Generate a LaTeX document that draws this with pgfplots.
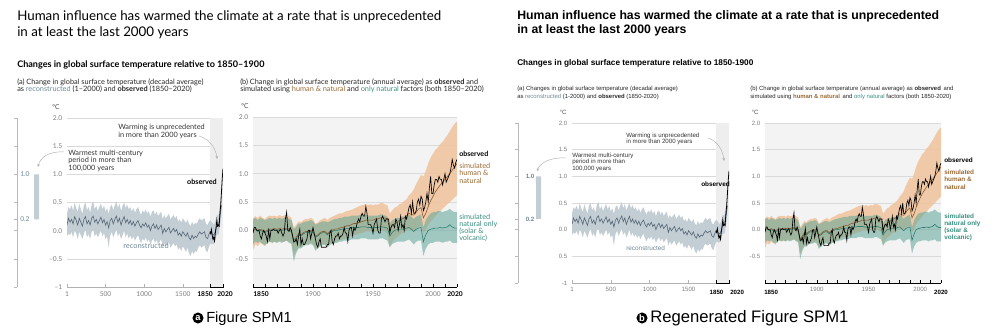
\documentclass[border=0pt]{standalone}
\usepackage{fontspec}
\usepackage{pgfplots}
\pgfplotsset{compat=1.18}
\usepackage{pgfplotstable}
\usetikzlibrary{arrows.meta}
\setmainfont{Liberation Sans}
\newfontfamily\lato{Lato}
\newfontfamily\arial{Liberation Sans}

\definecolor{recband}{HTML}{C3CDD4}
\definecolor{recline}{HTML}{566776}
\definecolor{reclab}{HTML}{6E8796}
\definecolor{hnband}{HTML}{F0C39C}
\definecolor{hnline}{HTML}{8A5A2E}
\definecolor{hnlab}{HTML}{9A6A35}
\definecolor{natband}{HTML}{5FA597}
\definecolor{natline}{HTML}{2E7D70}
\definecolor{natlab}{HTML}{3A8F80}
\definecolor{gridc}{HTML}{DADADA}
\definecolor{ticklab}{HTML}{7F7F7F}
\definecolor{bgb}{HTML}{F2F3F2}
\definecolor{shade}{HTML}{EEEEEE}

% reconstructed, decadal (1-2000)
\pgfplotstableread{
yr mid lo hi
1 0.10 -0.10 0.30
20 0.22 -0.05 0.42
40 0.15 -0.08 0.38
60 0.20 -0.02 0.45
80 0.12 -0.12 0.35
100 0.25 0.00 0.50
120 0.18 -0.05 0.40
140 0.10 -0.15 0.33
160 0.22 -0.02 0.48
180 0.15 -0.08 0.38
200 0.08 -0.15 0.30
220 0.20 -0.05 0.45
240 0.25 0.02 0.50
260 0.12 -0.12 0.36
280 0.18 -0.06 0.42
300 0.10 -0.15 0.32
320 0.22 -0.02 0.46
340 0.26 0.02 0.52
360 0.15 -0.10 0.38
380 0.20 -0.05 0.44
400 0.12 -0.12 0.35
420 0.18 -0.06 0.42
440 0.24 0.00 0.48
460 0.14 -0.10 0.38
480 0.20 -0.04 0.45
500 0.10 -0.15 0.34
520 0.16 -0.10 0.40
540 0.05 -0.30 0.30
560 0.18 -0.08 0.42
580 0.22 -0.02 0.46
600 0.12 -0.12 0.36
620 0.20 -0.05 0.45
640 0.26 0.02 0.52
660 0.15 -0.10 0.40
680 0.22 -0.04 0.48
700 0.10 -0.15 0.35
720 0.18 -0.08 0.44
740 0.25 0.00 0.50
760 0.14 -0.12 0.40
780 0.20 -0.05 0.46
800 0.12 -0.14 0.38
820 0.18 -0.08 0.42
840 0.10 -0.16 0.34
860 0.16 -0.10 0.40
880 0.08 -0.18 0.32
900 0.14 -0.12 0.38
920 0.18 -0.08 0.42
940 0.10 -0.16 0.34
960 0.05 -0.22 0.28
980 0.12 -0.14 0.36
1000 0.08 -0.18 0.32
1020 0.14 -0.12 0.38
1040 0.06 -0.20 0.30
1060 0.10 -0.15 0.35
1080 0.00 -0.25 0.25
1100 0.08 -0.18 0.33
1120 0.12 -0.14 0.36
1140 0.04 -0.22 0.28
1160 0.10 -0.16 0.34
1180 0.02 -0.24 0.26
1200 0.06 -0.20 0.30
1220 0.10 -0.15 0.34
1240 -0.05 -0.30 0.20
1260 0.04 -0.22 0.28
1280 -0.02 -0.28 0.22
1300 0.02 -0.24 0.26
1320 0.06 -0.20 0.30
1340 -0.04 -0.30 0.20
1360 0.00 -0.26 0.24
1380 0.04 -0.22 0.28
1400 -0.02 -0.28 0.22
1420 0.02 -0.24 0.26
1440 -0.08 -0.34 0.16
1460 -0.04 -0.30 0.20
1480 -0.10 -0.36 0.14
1500 -0.02 -0.28 0.22
1520 -0.06 -0.32 0.18
1540 -0.10 -0.38 0.14
1560 -0.04 -0.30 0.20
1580 -0.12 -0.40 0.12
1600 -0.16 -0.45 0.08
1620 -0.08 -0.36 0.16
1640 -0.14 -0.42 0.10
1660 -0.10 -0.36 0.14
1680 -0.12 -0.38 0.12
1700 -0.06 -0.30 0.18
1720 -0.02 -0.26 0.22
1740 -0.06 -0.30 0.18
1760 -0.04 -0.28 0.20
1780 -0.02 -0.26 0.22
1800 -0.12 -0.36 0.12
1820 -0.14 -0.38 0.10
1840 -0.06 -0.28 0.16
1860 -0.02 -0.22 0.18
1880 -0.06 -0.24 0.14
1900 -0.08 -0.24 0.10
1920 -0.02 -0.18 0.16
1940 0.10 -0.06 0.28
1960 0.08 -0.08 0.26
1980 0.25 0.08 0.42
2000 0.45 0.28 0.62
}\recon

% observed, decadal
\pgfplotstableread{
yr obs
1850 -0.02
1860 -0.05
1870 0.02
1880 -0.08
1890 -0.15
1900 -0.12
1910 -0.18
1920 -0.05
1930 0.05
1940 0.18
1950 0.08
1960 0.10
1970 0.08
1980 0.30
1990 0.45
2000 0.68
2010 0.92
2020 1.10
}\obsdec

% observed, annual
\pgfplotstableread{
yr obs
1850 -0.05
1851 0.05
1852 0.05
1853 0.0
1854 0.0
1855 0.0
1856 -0.1
1857 -0.15
1858 -0.05
1859 0.0
1860 -0.05
1861 -0.1
1862 -0.2
1863 0.0
1864 -0.15
1865 0.0
1866 0.0
1867 0.02
1868 0.0
1869 0.0
1870 0.0
1871 -0.05
1872 0.0
1873 0.02
1874 -0.05
1875 -0.1
1876 -0.05
1877 0.2
1878 0.32
1879 0.0
1880 -0.02
1881 0.05
1882 0.0
1883 -0.1
1884 -0.2
1885 -0.2
1886 -0.15
1887 -0.25
1888 -0.1
1889 0.02
1890 -0.25
1891 -0.15
1892 -0.25
1893 -0.25
1894 -0.2
1895 -0.15
1896 0.0
1897 0.0
1898 -0.15
1899 -0.05
1900 0.05
1901 -0.05
1902 -0.15
1903 -0.25
1904 -0.3
1905 -0.2
1906 -0.15
1907 -0.3
1908 -0.3
1909 -0.3
1910 -0.3
1911 -0.3
1912 -0.25
1913 -0.25
1914 -0.05
1915 0.0
1916 -0.2
1917 -0.25
1918 -0.15
1919 -0.1
1920 -0.1
1921 -0.05
1922 -0.15
1923 -0.1
1924 -0.1
1925 -0.05
1926 0.05
1927 -0.05
1928 -0.05
1929 -0.2
1930 0.0
1931 0.05
1932 0.05
1933 -0.1
1934 0.05
1935 0.0
1936 0.05
1937 0.15
1938 0.2
1939 0.15
1940 0.25
1941 0.3
1942 0.25
1943 0.25
1944 0.42
1945 0.3
1946 0.1
1947 0.1
1948 0.1
1949 0.05
1950 -0.05
1951 0.1
1952 0.15
1953 0.2
1954 0.0
1955 -0.05
1956 -0.05
1957 0.2
1958 0.25
1959 0.2
1960 0.15
1961 0.2
1962 0.2
1963 0.2
1964 -0.05
1965 0.05
1966 0.1
1967 0.1
1968 0.05
1969 0.2
1970 0.15
1971 0.0
1972 0.1
1973 0.25
1974 0.05
1975 0.1
1976 0.0
1977 0.25
1978 0.2
1979 0.3
1980 0.4
1981 0.45
1982 0.3
1983 0.5
1984 0.3
1985 0.3
1986 0.35
1987 0.5
1988 0.55
1989 0.45
1990 0.6
1991 0.55
1992 0.35
1993 0.4
1994 0.5
1995 0.65
1996 0.5
1997 0.75
1998 0.95
1999 0.65
2000 0.65
2001 0.8
2002 0.9
2003 0.9
2004 0.85
2005 0.95
2006 0.9
2007 0.9
2008 0.8
2009 0.9
2010 1.0
2011 0.85
2012 0.9
2013 0.95
2014 1.0
2015 1.1
2016 1.25
2017 1.15
2018 1.1
2019 1.2
2020 1.25
}\obsann

% simulated: human & natural (hn) and natural only (nat)
\pgfplotstableread{
yr hn hnlo hnhi nat natlo nathi
1850 0.00 -0.35 0.20 0.00 -0.25 0.20
1852 0.02 -0.25 0.25 0.02 -0.20 0.22
1854 0.00 -0.28 0.22 -0.02 -0.22 0.18
1856 0.02 -0.22 0.26 0.00 -0.20 0.22
1858 0.00 -0.25 0.22 -0.02 -0.24 0.20
1860 -0.02 -0.28 0.20 -0.04 -0.26 0.18
1862 0.00 -0.22 0.24 -0.02 -0.22 0.20
1864 0.02 -0.20 0.26 0.00 -0.20 0.22
1866 0.02 -0.22 0.25 0.00 -0.22 0.20
1868 0.03 -0.20 0.26 0.01 -0.20 0.22
1870 0.02 -0.22 0.24 0.00 -0.22 0.20
1872 0.03 -0.18 0.27 0.01 -0.20 0.22
1874 0.02 -0.20 0.25 0.00 -0.22 0.20
1876 0.03 -0.20 0.26 0.01 -0.20 0.22
1878 0.04 -0.18 0.28 0.02 -0.18 0.24
1880 0.02 -0.20 0.25 0.00 -0.22 0.20
1882 0.00 -0.22 0.22 -0.02 -0.24 0.18
1884 -0.18 -0.45 0.05 -0.22 -0.55 0.02
1886 -0.12 -0.35 0.10 -0.15 -0.40 0.06
1888 -0.06 -0.30 0.16 -0.08 -0.32 0.12
1890 -0.08 -0.30 0.14 -0.10 -0.32 0.12
1892 -0.04 -0.26 0.18 -0.06 -0.28 0.14
1894 -0.02 -0.24 0.20 -0.04 -0.26 0.16
1896 -0.02 -0.25 0.20 -0.04 -0.26 0.16
1898 0.00 -0.22 0.22 -0.02 -0.24 0.18
1900 -0.02 -0.24 0.20 -0.04 -0.26 0.16
1902 -0.10 -0.32 0.12 -0.12 -0.36 0.10
1904 -0.08 -0.30 0.14 -0.10 -0.32 0.12
1906 -0.04 -0.26 0.18 -0.06 -0.28 0.14
1908 -0.02 -0.24 0.20 -0.04 -0.26 0.16
1910 -0.02 -0.24 0.22 -0.04 -0.26 0.16
1912 -0.06 -0.28 0.18 -0.08 -0.30 0.14
1914 -0.02 -0.24 0.22 -0.04 -0.26 0.16
1916 0.00 -0.22 0.24 -0.02 -0.24 0.18
1918 0.02 -0.20 0.26 0.00 -0.22 0.20
1920 0.02 -0.20 0.28 0.00 -0.22 0.20
1922 0.04 -0.18 0.30 0.01 -0.20 0.22
1924 0.05 -0.16 0.30 0.02 -0.20 0.22
1926 0.06 -0.15 0.32 0.02 -0.18 0.24
1928 0.08 -0.14 0.34 0.03 -0.18 0.24
1930 0.08 -0.12 0.35 0.03 -0.18 0.24
1932 0.10 -0.10 0.36 0.04 -0.16 0.26
1934 0.12 -0.08 0.38 0.05 -0.16 0.26
1936 0.12 -0.08 0.40 0.05 -0.16 0.26
1938 0.14 -0.06 0.42 0.05 -0.16 0.26
1940 0.15 -0.05 0.44 0.06 -0.14 0.28
1942 0.16 -0.04 0.45 0.06 -0.14 0.28
1944 0.18 -0.02 0.46 0.06 -0.14 0.28
1946 0.18 -0.02 0.45 0.05 -0.16 0.26
1948 0.18 -0.02 0.46 0.05 -0.16 0.26
1950 0.18 -0.04 0.44 0.04 -0.16 0.26
1952 0.20 -0.02 0.46 0.05 -0.16 0.26
1954 0.20 -0.02 0.45 0.05 -0.16 0.26
1956 0.22 0.00 0.48 0.06 -0.14 0.28
1958 0.22 0.00 0.48 0.06 -0.14 0.28
1960 0.22 -0.02 0.46 0.05 -0.16 0.26
1962 0.20 -0.05 0.44 0.04 -0.18 0.24
1964 0.02 -0.30 0.30 -0.10 -0.30 0.12
1966 0.08 -0.20 0.35 -0.04 -0.24 0.18
1968 0.12 -0.15 0.40 0.00 -0.22 0.20
1970 0.14 -0.12 0.42 0.01 -0.20 0.22
1972 0.18 -0.08 0.46 0.02 -0.20 0.22
1974 0.20 -0.05 0.48 0.02 -0.20 0.24
1976 0.22 -0.05 0.52 0.02 -0.20 0.24
1978 0.26 0.00 0.55 0.04 -0.18 0.26
1980 0.30 0.02 0.62 0.05 -0.16 0.28
1982 0.28 0.00 0.66 0.02 -0.20 0.24
1984 0.27 -0.02 0.72 -0.02 -0.25 0.20
1986 0.32 0.04 0.82 0.02 -0.20 0.24
1988 0.38 0.06 0.90 0.04 -0.18 0.26
1990 0.40 0.08 0.98 0.05 -0.18 0.28
1992 0.22 -0.05 0.95 -0.20 -0.45 0.05
1994 0.30 0.02 1.05 -0.08 -0.32 0.18
1996 0.42 0.10 1.18 0.00 -0.25 0.25
1998 0.52 0.16 1.28 0.02 -0.22 0.30
2000 0.60 0.20 1.35 0.03 -0.22 0.32
2002 0.68 0.25 1.42 0.04 -0.20 0.32
2004 0.74 0.30 1.46 0.04 -0.20 0.34
2006 0.80 0.34 1.52 0.05 -0.20 0.34
2008 0.85 0.38 1.56 0.04 -0.22 0.32
2010 0.90 0.42 1.62 0.05 -0.20 0.34
2012 0.95 0.46 1.68 0.06 -0.20 0.35
2014 1.00 0.50 1.75 0.10 -0.18 0.38
2016 1.06 0.54 1.82 0.06 -0.22 0.34
2018 1.12 0.58 1.88 0.04 -0.22 0.32
2020 1.18 0.62 1.92 0.04 -0.22 0.32
}\simdat

\pgfplotsset{
  panelA/.style={scale only axis, anchor=south west, xmin=1, xmax=2020, ymin=-1, ymax=2,
    axis lines=left, separate axis lines, axis line style={-},
    y axis line style={draw=none}, x axis line style={draw=gray!60, line width=0.4pt},
    ytick={-1,-0.5,0,0.5,1,1.5,2}, ymajorgrids, major grid style={gridc, line width=0.35pt},
    ytick style={draw=none},
    xtick={1,500,1000,1500}, xticklabels={1,500,1000,1500},
    xtick style={draw=gray!60, line width=0.4pt}, tick align=inside, major tick length=2pt},
  panelB/.style={scale only axis, anchor=south west, xmin=1850, xmax=2020, ymin=-1, ymax=2,
    axis lines=left, separate axis lines, axis line style={-},
    y axis line style={draw=none}, x axis line style={draw=black, line width=0.5pt},
    ytick={-0.5,0,0.5,1,1.5,2}, ymajorgrids, major grid style={gridc, line width=0.35pt},
    ytick style={draw=none},
    xtick={1850,1860,...,2020},
    xticklabels={{},{},{},{},{},1900,{},{},{},{},1950,{},{},{},{},2000,{},{}},
    xtick style={draw=black, line width=0.4pt}, tick align=inside, major tick length=2.2pt,
    axis background/.style={fill=bgb}},
  ovl/.style={scale only axis, anchor=south west, ymin=-1, ymax=2, hide axis},
  mini/.style={scale only axis, anchor=south west, xmin=0, xmax=1, ymin=-1, ymax=2,
    axis lines=left, separate axis lines, axis line style={-},
    x axis line style={draw=none}, y axis line style={draw=gray!55, line width=0.4pt},
    xtick=\empty, ytick={-1,-0.5,0,0.2,0.5,1,1.5,2}, yticklabel=\empty,
    tick align=outside, major tick length=2pt, ytick style={gray!55, line width=0.4pt},
    clip=false},
  origtick/.style={tick label style={font=\lato\fontsize{5}{6}\selectfont, text=ticklab}},
  regtick/.style={tick label style={font=\arial\fontsize{4.6}{5}\selectfont, text=ticklab}},
}

% panel (a): #1 position, #2 width, #3 height, #4 tick options
\newcommand\panelAdraw[4]{%
  \begin{axis}[panelA, at={#1}, width=#2, height=#3, #4]
    \addplot[fill=shade, draw=none] coordinates {(1850,-1) (2020,-1) (2020,2) (1850,2) (1850,-1)};
  \end{axis}
  \begin{axis}[ovl, xmin=1, xmax=2020, at={#1}, width=#2, height=#3, stack plots=y]
    \addplot[draw=none] table[x=yr,y=lo]{\recon};
    \addplot[fill=recband, draw=none] table[x=yr,y expr=\thisrow{hi}-\thisrow{lo}]{\recon} \closedcycle;
  \end{axis}
  \begin{axis}[ovl, xmin=1, xmax=2020, at={#1}, width=#2, height=#3]
    \addplot[recline, line width=0.45pt] table[x=yr,y=mid]{\recon};
    \addplot[black, line width=0.6pt] table[x=yr,y=obs]{\obsdec};
  \end{axis}
}
% panel (b)
\newcommand\panelBdraw[4]{%
  \begin{axis}[panelB, at={#1}, width=#2, height=#3, #4]
    \addplot[draw=none] coordinates {(1850,0) (2020,0)};
  \end{axis}
  \begin{axis}[ovl, xmin=1850, xmax=2020, at={#1}, width=#2, height=#3, stack plots=y]
    \addplot[draw=none] table[x=yr,y=hnlo]{\simdat};
    \addplot[fill=hnband, fill opacity=0.85, draw=none] table[x=yr,y expr=\thisrow{hnhi}-\thisrow{hnlo}]{\simdat} \closedcycle;
  \end{axis}
  \begin{axis}[ovl, xmin=1850, xmax=2020, at={#1}, width=#2, height=#3, stack plots=y]
    \addplot[draw=none] table[x=yr,y=natlo]{\simdat};
    \addplot[fill=natband, fill opacity=0.55, draw=none] table[x=yr,y expr=\thisrow{nathi}-\thisrow{natlo}]{\simdat} \closedcycle;
  \end{axis}
  \begin{axis}[ovl, xmin=1850, xmax=2020, at={#1}, width=#2, height=#3]
    \addplot[natline, line width=0.45pt] table[x=yr,y=nat]{\simdat};
    \addplot[hnline, line width=0.45pt] table[x=yr,y=hn]{\simdat};
    \addplot[black, line width=0.5pt] table[x=yr,y=obs]{\obsann};
  \end{axis}
}

\tikzset{
  oTtl/.style={anchor=base west, inner sep=0, font=\lato\fontsize{10}{11}\selectfont},
  oSub/.style={anchor=base west, inner sep=0, font=\lato\bfseries\fontsize{6.8}{7}\selectfont},
  oCap/.style={anchor=base west, inner sep=0, font=\lato\fontsize{5.5}{6}\selectfont, text=black!85},
  oAnn/.style={anchor=base west, inner sep=0, font=\lato\fontsize{5.5}{6}\selectfont, text=black!80},
  rTtl/.style={anchor=base west, inner sep=0, font=\arial\bfseries\fontsize{9.2}{10}\selectfont},
  rSub/.style={anchor=base west, inner sep=0, font=\arial\bfseries\fontsize{6.2}{7}\selectfont},
  rCap/.style={anchor=base west, inner sep=0, font=\arial\fontsize{4.45}{5}\selectfont, text=black!85},
  rAnn/.style={anchor=base west, inner sep=0, font=\arial\fontsize{4.6}{5}\selectfont, text=black!80},
  annArrow/.style={gray!60, line width=0.35pt, -{Stealth[length=2.2pt, width=2pt]}},
}

\begin{document}
\begin{tikzpicture}
\path[use as bounding box] (0,0) rectangle (747pt,249pt);

% ---------- plots ----------
\begin{axis}[mini, at={(12.75pt,33.75pt)}, width=18.75pt, height=126.75pt]
\addplot[fill=recband, draw=none] coordinates {(0.68,0.2) (0.88,0.2) (0.88,1) (0.68,1) (0.68,0.2)};
\node[anchor=west, inner sep=0, font=\lato\fontsize{5}{6}\selectfont, text=reclab] at (axis cs:0.12,1) {1.0};
\node[anchor=west, inner sep=0, font=\lato\fontsize{5}{6}\selectfont, text=reclab] at (axis cs:0.12,0.2) {0.2};
\end{axis}
\panelAdraw{(50.25pt,33.75pt)}{117pt}{126.75pt}{origtick, yticklabels={–1,–0.5,0.0,0.5,1.0,1.5,2.0}}
\panelBdraw{(189.75pt,33.75pt)}{153pt}{127.5pt}{origtick, yticklabels={–0.5,0.0,0.5,1.0,1.5,2.0}}

\begin{axis}[mini, at={(388.5pt,36.75pt)}, width=18.75pt, height=120pt]
\addplot[fill=recband, draw=none] coordinates {(0.72,0.2) (0.92,0.2) (0.92,1) (0.72,1) (0.72,0.2)};
\node[anchor=west, inner sep=0, font=\arial\bfseries\fontsize{4.6}{5}\selectfont, text=reclab] at (axis cs:0.3,1) {1.0};
\node[anchor=west, inner sep=0, font=\arial\bfseries\fontsize{4.6}{5}\selectfont, text=reclab] at (axis cs:0.3,0.2) {0.2};
\end{axis}
\panelAdraw{(429pt,36.75pt)}{117.75pt}{120pt}{regtick, yticklabels={-1,0.5,0.0,0.5,1.0,1.5,2.0}}
\panelBdraw{(573.75pt,36.75pt)}{132pt}{120pt}{regtick, yticklabels={-0.5,0.0,0.5,1.0,1.5,2.0}}

% ---------- text, in pixel units of the 996x332 picture ----------
\begin{scope}[x=0.75pt, y=0.75pt]
% (a) original
\node[oTtl] at (17,332-20.5) {Human influence has warmed the climate at a rate that is unprecedented};
\node[oTtl] at (17,332-36.5) {in at least the last 2000 years};
\node[oSub] at (17,332-68) {Changes in global surface temperature relative to 1850–1900};
\node[oCap] at (17,332-84.5) {(a) Change in global surface temperature (decadal average)};
\node[oCap] at (17,332-92) {as {\color{reclab}reconstructed} (1–2000) and \textbf{observed} (1850–2020)};
\node[oCap] at (240,332-84.5) {(b) Change in global surface temperature (annual average) as \textbf{observed} and};
\node[oCap] at (240,332-92) {simulated using {\color{hnlab}human \& natural} and {\color{natlab}only natural} factors (both 1850–2020)};
\node[inner sep=0, font=\lato\fontsize{5}{6}\selectfont, text=black!70] at (56,332-107) {°C};
\node[inner sep=0, font=\lato\fontsize{5}{6}\selectfont, text=black!70] at (245,332-106) {°C};

\draw[black, line width=0.7pt] (210,332-284.5) -- (210,332-287) -- (223,332-287) -- (223,332-284.5);
\node[anchor=north east, inner sep=0, font=\lato\bfseries\fontsize{5}{6}\selectfont] at (213,332-291) {1850};
\node[anchor=north, inner sep=0, font=\lato\bfseries\fontsize{5}{6}\selectfont] at (225,332-291) {2020};

\node[oAnn] at (118,332-129.5) {Warming is unprecedented};
\node[oAnn] at (118,332-137.5) {in more than 2000 years};
\node[oAnn] at (68,332-155.5) {Warmest multi-century};
\node[oAnn] at (68,332-163) {period in more than};
\node[oAnn] at (68,332-170.5) {100,000 years};
\node[anchor=base east, inner sep=0, font=\lato\bfseries\fontsize{5.4}{6}\selectfont] at (217,332-184.5) {observed};
\node[anchor=base west, inner sep=0, font=\lato\fontsize{5.6}{6}\selectfont, text=reclab] at (123,332-248.5) {reconstructed};
\draw[annArrow] (64,332-152) .. controls (48,332-151) and (40,332-158) .. (38,332-167);
\draw[annArrow] (199,332-136) .. controls (210,332-139) and (216,332-149) .. (217,332-159);

\node[anchor=north west, inner sep=0, font=\lato\bfseries\fontsize{5}{6}\selectfont] at (253,332-291) {1850};
\node[anchor=north, inner sep=0, font=\lato\bfseries\fontsize{5}{6}\selectfont] at (455,332-291) {2020};
\node[anchor=base west, inner sep=0, font=\lato\bfseries\fontsize{5.3}{6}\selectfont] at (459,332-157) {observed};
\node[oAnn, text=hnlab] at (459,332-168.5) {simulated};
\node[oAnn, text=hnlab] at (459,332-176) {human \&};
\node[oAnn, text=hnlab] at (459,332-183.5) {natural};
\node[oAnn, text=natlab] at (459,332-219.5) {simulated};
\node[oAnn, text=natlab] at (459,332-226.5) {natural only};
\node[oAnn, text=natlab] at (459,332-234) {(solar \&};
\node[oAnn, text=natlab] at (459,332-241) {volcanic)};

\node[circle, fill=black, text=white, inner sep=0, minimum size=8.3pt, font=\arial\bfseries\fontsize{7}{8}\selectfont] at (198,332-318) {a};
\node[anchor=base west, inner sep=0, font=\arial\fontsize{11}{12}\selectfont] at (206,332-323) {Figure SPM1};

% (b) regenerated
\node[rTtl] at (517,332-20) {Human influence has warmed the climate at a rate that is unprecedented};
\node[rTtl] at (517,332-33.5) {in at least the last 2000 years};
\node[rSub] at (517,332-66) {Changes in global surface temperature relative to 1850-1900};
\node[rCap] at (517,332-91) {(a) Changes in global surface temperature (decadal average)};
\node[rCap] at (517,332-99) {as {\color{reclab}reconstructed} (1-2000) and \textbf{observed} (1850-2020)};
\node[rCap] at (750,332-91) {(b) Change in global surface temperature (annual average) as \textbf{observed}\, and};
\node[rCap] at (750,332-99) {simulated using {\color{hnlab}\textbf{human \& natural}}\, and {\color{natlab}only natural} factors (both 1850-2020)};
\node[inner sep=0, font=\arial\fontsize{4.6}{5}\selectfont, text=black!70] at (563,332-112) {°C};
\node[inner sep=0, font=\arial\fontsize{4.6}{5}\selectfont, text=black!70] at (755,332-112) {°C};

\draw[black, line width=0.7pt] (716,332-280.5) -- (716,332-283) -- (729,332-283) -- (729,332-280.5);
\node[anchor=north, inner sep=0, font=\arial\bfseries\fontsize{4.6}{5}\selectfont] at (716.5,332-290) {1850};
\node[anchor=north west, inner sep=0, font=\arial\bfseries\fontsize{4.6}{5}\selectfont] at (730,332-290) {2020};

\node[rAnn] at (626,332-137.5) {Warming is unprecedented};
\node[rAnn] at (626,332-144) {in more than 2000 years};
\node[rAnn] at (572,332-157.5) {Warmest multi-century};
\node[rAnn] at (572,332-164) {period in more than};
\node[rAnn] at (572,332-170.5) {100,000 years};
\node[anchor=base east, inner sep=0, font=\arial\bfseries\fontsize{4.8}{5}\selectfont] at (730,332-187) {observed};
\node[anchor=base west, inner sep=0, font=\arial\fontsize{4.8}{5}\selectfont, text=reclab] at (626,332-251) {reconstructed};
\draw[annArrow] (566,332-158) .. controls (550,332-157) and (540,332-163) .. (537,332-171);
\draw[annArrow] (708,332-138) .. controls (718,332-141) and (723,332-151) .. (724,332-161);

\node[anchor=north west, inner sep=0, font=\arial\bfseries\fontsize{4.6}{5}\selectfont] at (764,332-290) {1850};
\node[anchor=north, inner sep=0, font=\arial\bfseries\fontsize{4.6}{5}\selectfont] at (941,332-290) {2020};
\node[anchor=base west, inner sep=0, font=\arial\bfseries\fontsize{4.8}{5}\selectfont] at (944,332-163) {observed};
\node[rAnn, text=hnlab, font=\arial\bfseries\fontsize{4.8}{5}\selectfont] at (944,332-175) {simulated};
\node[rAnn, text=hnlab, font=\arial\bfseries\fontsize{4.8}{5}\selectfont] at (944,332-182) {human \&};
\node[rAnn, text=hnlab, font=\arial\bfseries\fontsize{4.8}{5}\selectfont] at (944,332-189.5) {natural};
\node[rAnn, text=natlab, font=\arial\bfseries\fontsize{4.8}{5}\selectfont] at (944,332-219) {simulated};
\node[rAnn, text=natlab, font=\arial\bfseries\fontsize{4.8}{5}\selectfont] at (944,332-226) {natural only};
\node[rAnn, text=natlab, font=\arial\bfseries\fontsize{4.8}{5}\selectfont] at (944,332-233) {(solar \&};
\node[rAnn, text=natlab, font=\arial\bfseries\fontsize{4.8}{5}\selectfont] at (944,332-240) {volcanic)};

\node[circle, fill=black, text=white, inner sep=0, minimum size=8.3pt, font=\arial\bfseries\fontsize{7}{8}\selectfont] at (642,332-318) {b};
\node[anchor=base west, inner sep=0, font=\arial\fontsize{12.5}{13}\selectfont] at (650,332-323) {Regenerated Figure SPM1};
\end{scope}
\end{tikzpicture}
\end{document}
